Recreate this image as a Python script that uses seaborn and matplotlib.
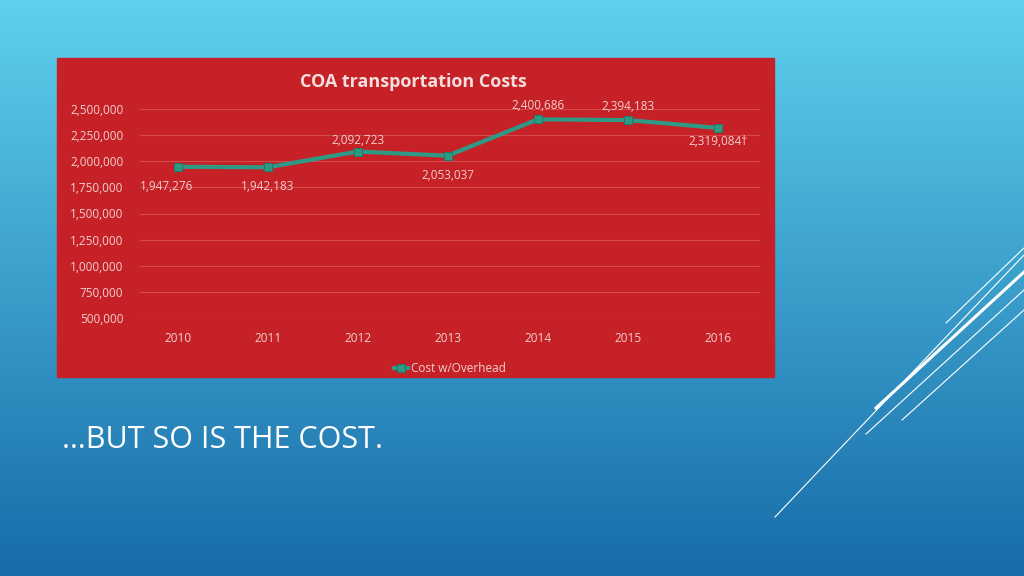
import numpy as np
import pandas as pd
import seaborn as sns
import matplotlib.pyplot as plt
from matplotlib.patches import Rectangle
from matplotlib.lines import Line2D

years = ['2010', '2011', '2012', '2013', '2014', '2015', '2016']
costs = [1947276, 1942183, 2092723, 2053037, 2400686, 2394183, 2319084]
point_labels = ['1,947,276', '1,942,183', '2,092,723', '2,053,037', '2,400,686', '2,394,183', '2,319,084†']
y_ticks = [500000, 750000, 1000000, 1250000, 1500000, 1750000, 2000000, 2250000, 2500000]

W, H = 1024, 576
plt.rcParams['font.family'] = 'Open Sans'
fig = plt.figure(figsize=(W / 100, H / 100), dpi=100)

# background gradient
bg = fig.add_axes([0, 0, 1, 1])
grad = np.linspace(0, 1, 256).reshape(-1, 1)
top = np.array([0.37, 0.82, 0.93])
bot = np.array([0.09, 0.42, 0.66])
img = top[None, None, :] * (1 - grad[..., None]) + bot[None, None, :] * grad[..., None]
bg.imshow(img, aspect='auto', extent=[0, 1, 0, 1])
bg.set_xlim(0, 1)
bg.set_ylim(0, 1)
bg.set_axis_off()

# decorative lines
for (x0, y0, x1, y1, lw) in [(775, 517, 1024, 255, 0.8), (876, 408, 1024, 272, 2.2),
                             (866, 434, 1024, 290, 0.8), (946, 323, 1024, 248, 0.8),
                             (902, 420, 1024, 310, 0.8)]:
    bg.add_line(Line2D([x0 / W, x1 / W], [1 - y0 / H, 1 - y1 / H], color='white', lw=lw))

# red chart box
bg.add_patch(Rectangle((57 / W, 1 - 377 / H), (774 - 57) / W, (377 - 58) / H,
                       transform=bg.transAxes, color='#c52127'))

ax = fig.add_axes([140 / W, 1 - 318 / H, (760 - 140) / W, (318 - 109) / H])
ax.set_facecolor('none')
df = pd.DataFrame({'year': np.arange(len(years)), 'cost': costs})
sns.lineplot(data=df, x='year', y='cost', ax=ax, color='#2e9a85', lw=3, marker='s',
             markersize=6, markeredgecolor='#1f7a68', label='Cost w/Overhead')
ax.set_xlim(-0.42, 6.47)
ax.set_ylim(500000, 2500000)
ax.set_yticks(y_ticks)
ax.set_yticklabels([f'{v:,}' for v in y_ticks])
ax.set_xticks(range(len(years)))
ax.set_xticklabels(years)
ax.tick_params(colors='#f2d0d0', labelsize=8.5, length=0, pad=10)
ax.tick_params(axis='y', pad=12)
ax.grid(axis='y', color='#d44a4a', lw=0.8)
for s in ax.spines.values():
    s.set_visible(False)
ax.set_xlabel('')
ax.set_ylabel('')
offsets = [(-8, -14), (0, -14), (0, 8), (0, -14), (0, 10), (0, 10), (0, -10)]
for i, (v, lab) in enumerate(zip(costs, point_labels)):
    dx, dy = offsets[i]
    ax.annotate(lab, (i, v), xytext=(dx, dy), textcoords='offset points',
                ha='center', va='center', color='#f2d0d0', fontsize=8.5)
ax.legend(loc='upper center', bbox_to_anchor=(0.5, -0.16), frameon=False, fontsize=8.5,
          labelcolor='#f2d0d0', handlelength=1.2, handletextpad=0.2)

fig.text(413 / W, 1 - 82 / H, 'COA transportation Costs', ha='center', va='center',
         color='#f5dede', fontsize=13, fontweight='bold')
fig.text(62 / W, 1 - 440 / H, '…BUT SO IS THE COST.', ha='left', va='center',
         color='white', fontsize=22)

fig.savefig('out.png', dpi=100)
